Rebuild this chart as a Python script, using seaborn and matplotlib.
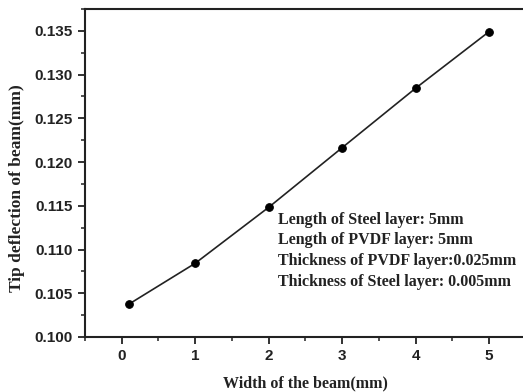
import matplotlib
matplotlib.use("Agg")
import matplotlib.pyplot as plt
from matplotlib.ticker import MultipleLocator
import seaborn as sns
import pandas as pd

# Beam width (mm) and resulting tip deflection (mm)
width_mm = [0.1, 1, 2, 3, 4, 5]
deflection_mm = [0.10377, 0.10843, 0.11483, 0.12165, 0.12845, 0.13492]

x_ticks = [0, 1, 2, 3, 4, 5]
y_ticks = [0.100, 0.105, 0.110, 0.115, 0.120, 0.125, 0.130, 0.135]

notes = [
    "Length of Steel layer: 5mm",
    "Length of PVDF layer: 5mm",
    "Thickness of PVDF layer:0.025mm",
    "Thickness of Steel layer: 0.005mm",
]

sns.set_theme(style="ticks")
plt.rcParams["font.family"] = ["Liberation Sans", "DejaVu Sans"]

df = pd.DataFrame({"width": width_mm, "deflection": deflection_mm})

fig = plt.figure(figsize=(5.23, 3.92), dpi=100)
# axes runs off the right edge of the canvas
ax_w = (523 - 85) / 523 + 0.02
ax = fig.add_axes([85 / 523, 1 - 337 / 392, ax_w, (337 - 9) / 392])

sns.lineplot(data=df, x="width", y="deflection", ax=ax, color="#222222",
             linewidth=1.2, marker="o", markersize=5.5, markerfacecolor="black",
             markeredgecolor="black")

ax.set_xlim(-0.5, 5.46 + 0.02 * 523 / 73.5)
ax.set_ylim(0.100, 0.1375)
ax.set_xticks(x_ticks)
ax.set_yticks(y_ticks)
ax.xaxis.set_minor_locator(MultipleLocator(0.5))
ax.yaxis.set_minor_locator(MultipleLocator(0.0025))
ax.set_xticklabels([str(v) for v in x_ticks], fontsize=11, fontweight="bold")
ax.set_yticklabels([f"{v:.3f}" for v in y_ticks], fontsize=11, fontweight="bold")

ax.tick_params(axis="both", which="major", direction="out", length=5, width=1.3,
               color="#222222", pad=4, labelcolor="#222222")
ax.tick_params(axis="both", which="minor", direction="out", length=3, width=1.1,
               color="#222222")

for side in ["left", "bottom", "top"]:
    ax.spines[side].set_linewidth(1.5)
    ax.spines[side].set_color("#222222")
ax.spines["right"].set_visible(False)

serif = ["Liberation Serif", "DejaVu Serif"]
ax.set_xlabel("Width of the beam(mm)", family=serif, fontsize=11.5,
              fontweight="bold", color="#222222")
ax.set_ylabel("Tip deflection of beam(mm)", family=serif, fontsize=12.5,
              fontweight="bold", color="#222222")
ax_px_w = ax_w * 523
ax.xaxis.set_label_coords((305 - 85) / ax_px_w, -(383 - 337) / 328)
ax.yaxis.set_label_coords(-(85 - 17) / ax_px_w, (337 - 188) / 328)
ax.xaxis.label.set_va("center")
ax.yaxis.label.set_va("center")

ax.text(2.13, 0.1143, "\n".join(notes), family=serif, fontsize=11.5,
        fontweight="bold", va="top", ha="left", linespacing=1.38, color="#222222")

fig.savefig("out.png", dpi=100)
